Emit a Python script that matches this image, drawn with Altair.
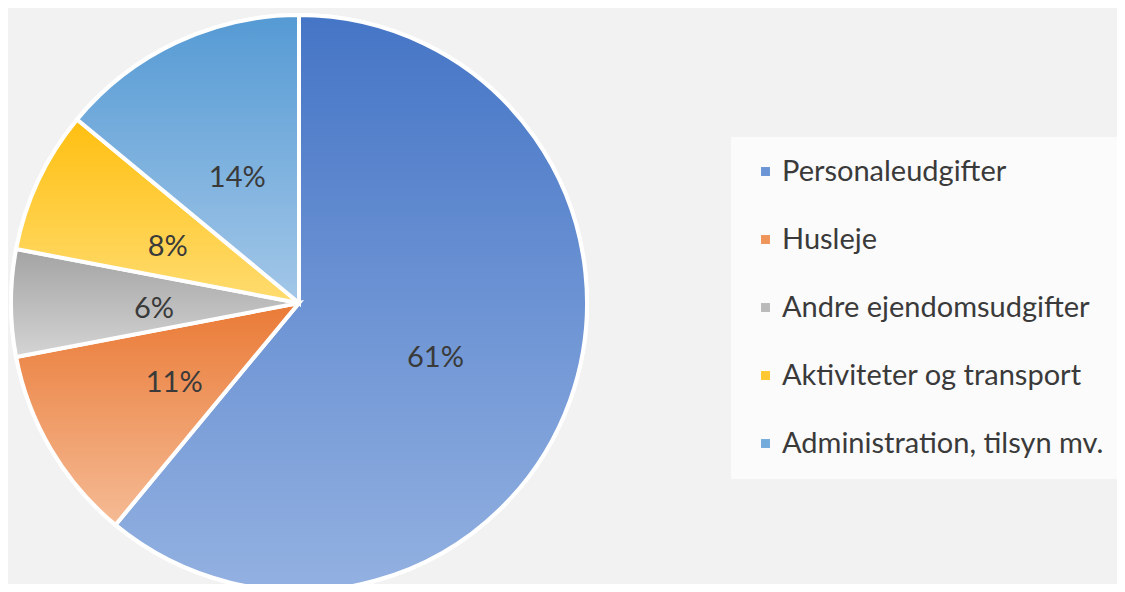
import altair as alt
import pandas as pd

categories = [
    "Personaleudgifter",
    "Husleje",
    "Andre ejendomsudgifter",
    "Aktiviteter og transport",
    "Administration, tilsyn mv.",
]
values = [61, 11, 6, 8, 14]
pct_labels = ["61%", "11%", "6%", "8%", "14%"]
solid_colors = ["#6b95d5", "#f0955a", "#bababa", "#ffc830", "#74abdd"]
grad_top = ["#4575c6", "#ea7a36", "#a3a3a3", "#ffbf10", "#559ad4"]
grad_bottom = ["#93b1e1", "#f5bb95", "#d4d4d4", "#ffdc70", "#a3c7e8"]

df = pd.DataFrame({
    "cat": categories,
    "value": values,
    "label": pct_labels,
    "order": list(range(len(categories))),
})

CX, CY, R = 291, 295, 288
theta_scale = alt.Scale(domain=[0, 100])

base = alt.Chart(df).transform_window(
    end="sum(value)", sort=[alt.SortField("order")], frame=[None, 0]
).transform_calculate(
    start="datum.end - datum.value",
    mid="datum.end - datum.value / 2",
)

enc_common = dict(
    theta=alt.Theta("start:Q", scale=theta_scale, stack=None),
    theta2=alt.Theta2("end:Q"),
    x=alt.value(CX),
    y=alt.value(CY),
)

legend_layer = base.mark_arc(outerRadius=R, stroke="white", strokeWidth=4).encode(
    color=alt.Color(
        "cat:N",
        sort=categories,
        scale=alt.Scale(domain=categories, range=solid_colors),
        legend=alt.Legend(
            orient="none",
            legendX=723,
            legendY=129,
            title=None,
            symbolType="square",
            symbolSize=80,
            symbolStrokeWidth=0,
            symbolOpacity=1,
            labelFontSize=29,
            labelFont="Lato",
            labelColor="#3a3a3a",
            labelOffset=2,
            labelLimit=500,
            rowPadding=38,
            padding=20,
            fillColor="#fbfbfb",
        ),
    ),
    **enc_common,
)

grad_layers = []
for i, cat in enumerate(categories):
    grad = alt.LinearGradient(
        gradient="linear",
        x1=0, y1=0, x2=0, y2=1,
        stops=[
            alt.GradientStop(color=grad_top[i], offset=0),
            alt.GradientStop(color=grad_bottom[i], offset=1),
        ],
    )
    grad_layers.append(
        base.transform_filter(alt.datum.cat == cat)
        .mark_arc(outerRadius=R, stroke="white", strokeWidth=4, color=grad)
        .encode(**enc_common)
    )

text_layer = base.mark_text(
    radius=145, fontSize=29, font="Lato", color="#3a3a3a", dy=6
).encode(
    theta=alt.Theta("mid:Q", scale=theta_scale, stack=None),
    text="label:N",
    x=alt.value(CX),
    y=alt.value(CY),
)

chart = alt.layer(legend_layer, *grad_layers, text_layer).properties(
    width=1109, height=576, padding=0, autosize="none"
).configure(background="#f2f2f2").configure_view(strokeWidth=0)

chart.save("out.html", embed_options={"renderer": "svg", "actions": False})
